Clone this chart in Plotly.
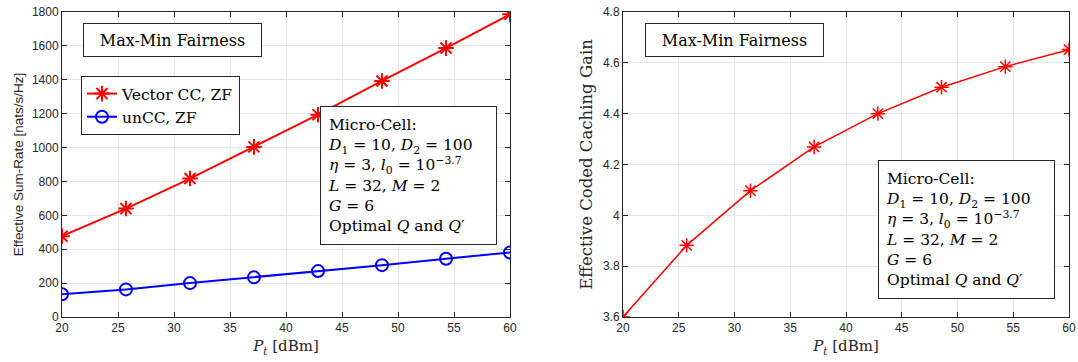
import plotly.graph_objects as go

pt_dbm = [20, 25.71, 31.43, 37.14, 42.86, 48.57, 54.29, 60]
vector_cc = [477, 640, 817, 1004, 1194, 1393, 1587, 1786]
uncc = [134, 163, 200, 234, 271, 306, 344, 381]
cc_gain = [3.60, 3.882, 4.097, 4.269, 4.40, 4.504, 4.585, 4.652]

x_ticks = [20, 25, 30, 35, 40, 45, 50, 55, 60]
y1_ticks = [0, 200, 400, 600, 800, 1000, 1200, 1400, 1600, 1800]
y2_ticks = [3.6, 3.8, 4.0, 4.2, 4.4, 4.6, 4.8]
y2_labels = ["3.6", "3.8", "4", "4.2", "4.4", "4.6", "4.8"]

SERIF = "DejaVu Serif, Liberation Serif, serif"
SANS = "Liberation Sans, Arial, sans-serif"
AX = "#262626"

W, H = 1078, 362
def px(x):
    return x / W
def py(y):
    return 1 - y / H

fig = go.Figure()
fig.add_trace(go.Scatter(x=pt_dbm, y=vector_cc, mode="lines+markers", name="Vector CC, ZF",
                         line=dict(color="#ff0000", width=2),
                         marker=dict(symbol="asterisk-open", size=13, line=dict(color="#ff0000", width=2)),
                         xaxis="x", yaxis="y"))
fig.add_trace(go.Scatter(x=pt_dbm, y=uncc, mode="lines+markers", name="unCC, ZF",
                         line=dict(color="#0000ff", width=2),
                         marker=dict(symbol="circle-open", size=12, line=dict(color="#0000ff", width=2)),
                         xaxis="x", yaxis="y"))
fig.add_trace(go.Scatter(x=pt_dbm, y=cc_gain, mode="lines+markers", showlegend=False,
                         line=dict(color="#ff0000", width=1.5),
                         marker=dict(symbol="asterisk-open", size=12, line=dict(color="#ff0000", width=1.5)),
                         xaxis="x2", yaxis="y2"))

ydom = [py(317), py(12)]

def xax(domain, anchor):
    return dict(domain=domain, anchor=anchor, range=[20, 60], tickvals=x_ticks,
                showgrid=True, gridcolor="#e6e6e6", zeroline=False,
                showline=True, linecolor=AX, linewidth=1, mirror="ticks",
                ticks="inside", ticklen=5, tickcolor=AX, automargin=False,
                ticklabeloverflow="allow",
                tickfont=dict(family=SANS, size=12, color=AX),
                title=dict(text="<i>P<sub>t</sub></i> [dBm]", font=dict(family=SERIF, size=15, color=AX), standoff=6))

def yax(domain, anchor, rng, tv, tt, title, tfont, standoff):
    return dict(domain=domain, anchor=anchor, range=rng, tickvals=tv, ticktext=tt,
                showgrid=True, gridcolor="#e6e6e6", zeroline=False,
                showline=True, linecolor=AX, linewidth=1, mirror="ticks",
                ticks="inside", ticklen=5, tickcolor=AX, automargin=False,
                ticklabeloverflow="allow",
                tickfont=dict(family=SANS, size=12, color=AX),
                title=dict(text=title, font=tfont, standoff=standoff))

fig.update_layout(
    width=W, height=H, margin=dict(l=0, r=0, t=0, b=0),
    paper_bgcolor="white", plot_bgcolor="white",
    xaxis=xax([px(62), px(510)], "y"),
    yaxis=yax(ydom, "x", [0, 1800], y1_ticks, [str(v) for v in y1_ticks],
              "Effective Sum-Rate [nats/s/Hz]", dict(family=SANS, size=13.5, color=AX), 5),
    xaxis2=xax([px(623), px(1069)], "y2"),
    yaxis2=yax(ydom, "x2", [3.6, 4.8], y2_ticks, y2_labels,
               "Effective Coded Caching Gain", dict(family=SERIF, size=16.5, color=AX), 6),
    legend=dict(x=px(81), y=py(76), xanchor="left", yanchor="top",
                bgcolor="white", bordercolor=AX, borderwidth=1,
                font=dict(family=SERIF, size=15.5, color="black"),
                tracegroupgap=0, itemwidth=30),
    showlegend=True,
)

box_text = ("Micro-Cell:<br><i>D</i><sub>1</sub> = 10, <i>D</i><sub>2</sub> = 100<br>"
            "<i>η</i> = 3, <i>l</i><sub>0</sub> = 10<sup>−3.7</sup><br>"
            "<i>L</i> = 32, <i>M</i> = 2<br><i>G</i> = 6<br>Optimal <i>Q</i> and <i>Q</i>′")

for (xl, yt) in [(83, 23), (645, 23)]:
    fig.add_annotation(xref="paper", yref="paper", x=px(xl), y=py(yt),
                       xanchor="left", yanchor="top", showarrow=False,
                       text="Max-Min Fairness", font=dict(family=SERIF, size=16, color="black"),
                       width=169, height=24,
                       bgcolor="white", bordercolor=AX, borderwidth=1, borderpad=4)

for (xl, yt) in [(320, 106), (878, 160)]:
    fig.add_annotation(xref="paper", yref="paper", x=px(xl), y=py(yt),
                       xanchor="left", yanchor="top", showarrow=False, align="left",
                       text=box_text, font=dict(family=SERIF, size=15.5, color="black"),
                       width=161, height=123,
                       bgcolor="white", bordercolor=AX, borderwidth=1, borderpad=7)

fig.write_html("out.html", config={"displayModeBar": False},
               post_script="document.body.style.margin='0px';document.body.style.overflow='hidden';")
